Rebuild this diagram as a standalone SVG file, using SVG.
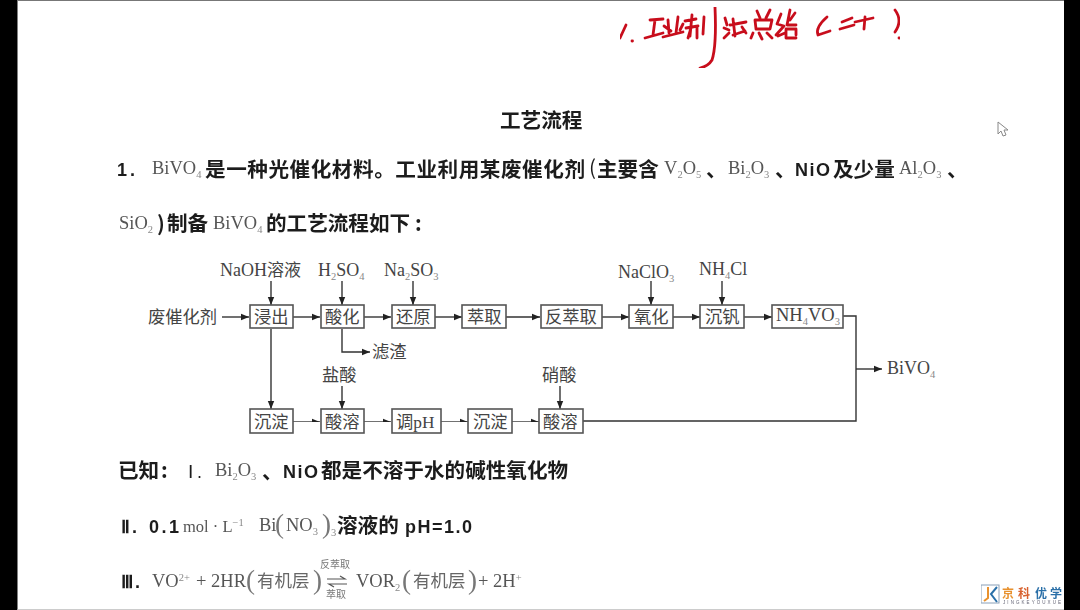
<svg xmlns="http://www.w3.org/2000/svg" width="1080" height="610" viewBox="0 0 1080 610">
<defs>
<style>
.b{font-family:"Noto Sans CJK SC",sans-serif;font-weight:700;fill:#1c1c1c;font-size:20.6px}
.l{font-family:"Liberation Sans",sans-serif;font-weight:700;fill:#1c1c1c;font-size:18px;letter-spacing:1px}
.s{font-family:"Liberation Serif","Noto Sans CJK SC",serif;fill:#555;font-size:18.5px}
.f{font-family:"Liberation Serif","Noto Sans CJK SC",serif;fill:#444;font-size:18px}
.c{font-family:"Noto Sans CJK SC",sans-serif;fill:#444;font-size:17.3px}
.h{font-family:"Noto Sans CJK SC",sans-serif;fill:#666;font-size:17.5px}
.p{font-family:"Liberation Serif",serif;fill:#777;font-size:27px}
.sub{font-size:10.5px;fill:#888}
.box{fill:#fff;stroke:#555;stroke-width:1.6}
.line{fill:none;stroke:#333;stroke-width:1.4}
.ink{fill:none;stroke:#c8101c;stroke-width:2.8;stroke-linecap:round;stroke-linejoin:round}
</style>
<marker id="a" markerWidth="9" markerHeight="8" refX="8" refY="4" orient="auto" markerUnits="userSpaceOnUse"><path d="M0 0.8L8 4L0 7.2Z" fill="#222"/></marker>
<filter id="soft" x="0" y="0" width="100%" height="100%"><feGaussianBlur stdDeviation="0.45"/></filter>
</defs>
<rect width="1080" height="610" fill="#000"/>
<rect x="17.5" y="0" width="1046.5" height="610" fill="#fff"/>
<rect x="17.5" y="0" width="1046.5" height="1" fill="#777"/>
<rect x="17.5" y="609" width="1046.5" height="1" fill="#ccc"/>
<g id="handwriting" class="ink" filter="url(#soft)">
<path d="M620 38L626 25M632 41h.5"/>
<path d="M650 20L663 19M655 20L653 35M645 38L663 33"/>
<path d="M668 20L669 33M678 17L676 33M664 26L671 31M683 24L680 30M663 37L683 32"/>
<path d="M692 15L690 36M685 21L696 19M686 28L698 26M691 28L688 38M697 27V38M704 17L703 34"/>
<path d="M715 7C716 30 716 48 712 60C709 65 705 67 700 68"/>
<path d="M725 18L727 25M724 28L729 30M724 38L729 33M733 19L735 36M730 25L746 22M733 35L745 31M742 27L746 33"/>
<path d="M757 11L760 18M770 10L766 18M755 20H772L770 29H756ZM751 38L753 33M759 33L762 39M767 33L772 38"/>
<path d="M781 14L777 24L784 26L776 35M778 36L785 33M790 10L787 25H796M795 13L790 20M786 30V38H796M786 29H796V35"/>
<path d="M827 17C819 24 816 30 818 35L830 31"/>
<path d="M842 22L852 18M840 29L854 25"/>
<path d="M855 22L873 18M865 17L864 29"/>
<path d="M895 10C901 18 900 25 895 32M899 38h.5"/>
</g>
<g id="cursor"><path d="M998 122V134L1001 131L1003 136L1006 135L1004 130L1008 130Z" fill="#fff" stroke="#888"/></g>
<g id="logo" filter="url(#soft)">
<rect x="981" y="585" width="18" height="18" fill="#fff" stroke="#8aa0b8"/>
<path d="M988 587V598L984 601" fill="none" stroke="#e8912d" stroke-width="2"/>
<path d="M997 587L991 594L997 602" fill="none" stroke="#2a6fa8" stroke-width="2"/>
<text x="1002" y="598" font-family="Noto Sans CJK SC,sans-serif" font-size="12" font-weight="700" fill="#e8912d">京</text>
<text x="1018" y="598" font-family="Noto Sans CJK SC,sans-serif" font-size="12" font-weight="700" fill="#d8602d">科</text>
<text x="1035" y="598" font-family="Noto Sans CJK SC,sans-serif" font-size="12" font-weight="700" fill="#2a6fa8">优</text>
<text x="1050" y="598" font-family="Noto Sans CJK SC,sans-serif" font-size="12" font-weight="700" fill="#2a6fa8">学</text>
<text x="1003" y="604" font-family="Liberation Sans,sans-serif" font-size="4.5" fill="#667" textLength="58">JINGKEYOUXUE</text>
</g>
<g id="text" filter="url(#soft)">
<text class="b" x="500" y="128">工艺流程</text>
<text x="117" y="176" class="l" style="letter-spacing:3px">1.</text>
<text x="152" y="174" class="s">BiVO<tspan class="sub" dy="4">4</tspan></text>
<text x="205" y="176.500" class="b" textLength="380">是一种光催化材料。工业利用某废催化剂</text>
<text x="589" y="175" class="b" style="font-weight:400">(</text>
<text x="597" y="176.500" class="b">主要含</text>
<text x="664" y="174" class="s">V<tspan class="sub" dy="4">2</tspan><tspan dy="-4">O</tspan><tspan class="sub" dy="4">5</tspan></text>
<text x="706" y="177" class="b">、</text>
<text x="728" y="174" class="s">Bi<tspan class="sub" dy="4">2</tspan><tspan dy="-4">O</tspan><tspan class="sub" dy="4">3</tspan></text>
<text x="775" y="177" class="b">、</text>
<text x="795" y="176" class="l" style="letter-spacing:1.5px">NiO</text>
<text x="833" y="176.500" class="b">及少量</text>
<text x="899" y="174" class="s">Al<tspan class="sub" dy="4">2</tspan><tspan dy="-4">O</tspan><tspan class="sub" dy="4">3</tspan></text>
<text x="947" y="177" class="b">、</text>
<text x="119" y="229" class="s">SiO<tspan class="sub" dy="4">2</tspan></text>
<text x="157" y="231" class="b">)</text>
<text x="167" y="231" class="b">制备</text>
<text x="213" y="229" class="s">BiVO<tspan class="sub" dy="4">4</tspan></text>
<text x="266" y="231" class="b">的工艺流程如下</text>
<text x="415" y="231" class="b">:</text>
<text x="118" y="478" class="b">已知</text>
<text x="161" y="478" class="b">:</text>
<text x="188" y="478" class="l" style="font-weight:400;letter-spacing:4px">Ⅰ.</text>
<text x="215" y="476" class="s">Bi<tspan class="sub" dy="4">2</tspan><tspan dy="-4">O</tspan><tspan class="sub" dy="4">3</tspan></text>
<text x="262" y="479" class="b">、</text>
<text x="283" y="478" class="l" style="letter-spacing:1.500px">NiO</text>
<text x="321" y="478" class="b">都是不溶于水的碱性氧化物</text>
<text x="121" y="533" class="l" style="letter-spacing:2px">Ⅱ.</text>
<text x="149" y="533" class="l" style="letter-spacing:2.500px">0.1</text>
<text x="183" y="532" class="s" style="font-size:16.5px">mol · L<tspan class="sub" dy="-6">−1</tspan></text>
<text x="259" y="531" class="s">Bi</text>
<text x="275" y="533" class="p">(</text>
<text x="286" y="531" class="s">NO<tspan class="sub" dy="4">3</tspan></text>
<text x="322" y="533" class="p">)</text>
<text x="331" y="536" class="s sub">3</text>
<text x="337" y="533" class="b">溶液的</text>
<text x="405" y="533" class="l" style="letter-spacing:1.500px">pH=1.0</text>
<text x="121" y="588" class="l" style="letter-spacing:2px">Ⅲ.</text>
<text x="152" y="587" class="s">VO<tspan class="sub" dy="-6">2+</tspan><tspan dy="6" x="196">+ 2HR</tspan></text>
<text x="246" y="589" class="p">(</text>
<text x="257" y="587" class="h">有机层</text>
<text x="313" y="589" class="p">)</text>
<text x="320" y="568" font-family="Noto Sans CJK SC,sans-serif" font-size="10" fill="#777">反萃取</text>
<text x="326" y="598" font-family="Noto Sans CJK SC,sans-serif" font-size="10" fill="#777">萃取</text>
<path d="M327 579H345L340 576M347 584H329L334 587" fill="none" stroke="#555" stroke-width="1.2"/>
<text x="356" y="587" class="s">VOR<tspan class="sub" dy="4">2</tspan></text>
<text x="402" y="589" class="p">(</text>
<text x="413" y="587" class="h">有机层</text>
<text x="468" y="589" class="p">)</text>
<text x="478" y="587" class="s">+ 2H<tspan class="sub" dy="-6">+</tspan></text>
</g>
<g id="connectors" class="line" filter="url(#soft)">
<path class="line" marker-end="url(#a)" d="M222 317H249"/>
<path class="line" marker-end="url(#a)" d="M293 317H320"/>
<path class="line" marker-end="url(#a)" d="M364 317H391"/>
<path class="line" marker-end="url(#a)" d="M435 317H462"/>
<path class="line" marker-end="url(#a)" d="M506 317H540"/>
<path class="line" marker-end="url(#a)" d="M602 317H629"/>
<path class="line" marker-end="url(#a)" d="M673 317H700"/>
<path class="line" marker-end="url(#a)" d="M744 317H772"/>
<path class="line" d="M843 316H856V421H583"/>
<path class="line" marker-end="url(#a)" d="M856 369H882"/>
<path class="line" marker-end="url(#a)" d="M271 281V305"/>
<path class="line" marker-end="url(#a)" d="M342 281V305"/>
<path class="line" marker-end="url(#a)" d="M413 281V305"/>
<path class="line" marker-end="url(#a)" d="M651 281V305"/>
<path class="line" marker-end="url(#a)" d="M722 281V305"/>
<path class="line" marker-end="url(#a)" d="M271 329V409"/>
<path class="line" marker-end="url(#a)" d="M342 329V352H370"/>
<path class="line" marker-end="url(#a)" d="M342 386V409"/>
<path class="line" marker-end="url(#a)" d="M560 386V409"/>
<path class="line" marker-end="url(#a)" d="M293 422H320"/>
<path class="line" marker-end="url(#a)" d="M364 422H391"/>
<path class="line" marker-end="url(#a)" d="M441 422H468"/>
<path class="line" marker-end="url(#a)" d="M512 422H539"/>
</g>
<g id="n1"><text class="c" x="148" y="323">废催化剂</text></g>
<g id="n2"><rect class="box" x="250" y="305" width="43" height="23"/><text class="c" x="254" y="323">浸出</text></g>
<g id="n3"><rect class="box" x="321" y="305" width="43" height="23"/><text class="c" x="325" y="323">酸化</text></g>
<g id="n4"><rect class="box" x="392" y="305" width="43" height="23"/><text class="c" x="396" y="323">还原</text></g>
<g id="n5"><rect class="box" x="462" y="305" width="44" height="23"/><text class="c" x="467" y="323">萃取</text></g>
<g id="n6"><rect class="box" x="541" y="305" width="61" height="23"/><text class="c" x="545" y="323">反萃取</text></g>
<g id="n7"><rect class="box" x="629" y="305" width="44" height="23"/><text class="c" x="634" y="323">氧化</text></g>
<g id="n8"><rect class="box" x="700" y="305" width="44" height="23"/><text class="c" x="705" y="323">沉钒</text></g>
<g id="n9"><rect class="box" x="772" y="305" width="71" height="23"/><text class="f" x="776" y="321" style="font-size:18.5px">NH<tspan class="sub" dy="4">4</tspan><tspan dy="-4">VO</tspan><tspan class="sub" dy="4">3</tspan></text></g>
<g id="n10"><rect class="box" x="250" y="409" width="43" height="24"/><text class="c" x="254" y="428">沉淀</text></g>
<g id="n11"><rect class="box" x="321" y="409" width="43" height="24"/><text class="c" x="325" y="428">酸溶</text></g>
<g id="n12"><rect class="box" x="392" y="409" width="49" height="24"/><text class="c" x="396" y="428">调<tspan style="font-family:'Liberation Serif'">pH</tspan></text></g>
<g id="n13"><rect class="box" x="468" y="409" width="44" height="24"/><text class="c" x="473" y="428">沉淀</text></g>
<g id="n14"><rect class="box" x="539" y="409" width="44" height="24"/><text class="c" x="543" y="428">酸溶</text></g>
<g id="l1"><text class="f" x="220" y="276">NaOH<tspan style="font-family:'Noto Sans CJK SC'" font-size="17">溶液</tspan></text></g>
<g id="l2"><text class="f" x="318" y="276">H<tspan class="sub" dy="4">2</tspan><tspan dy="-4">SO</tspan><tspan class="sub" dy="4">4</tspan></text></g>
<g id="l3"><text class="f" x="384" y="276">Na<tspan class="sub" dy="4">2</tspan><tspan dy="-4">SO</tspan><tspan class="sub" dy="4">3</tspan></text></g>
<g id="l4"><text class="f" x="618" y="278">NaClO<tspan class="sub" dy="4">3</tspan></text></g>
<g id="l5"><text class="f" x="699" y="275">NH<tspan class="sub" dy="4">4</tspan><tspan dy="-4">Cl</tspan></text></g>
<g id="l6"><text class="c" x="372" y="358">滤渣</text></g>
<g id="l7"><text class="c" x="322" y="381">盐酸</text></g>
<g id="l8"><text class="c" x="542" y="381">硝酸</text></g>
<g id="l9"><text class="f" x="887" y="374">BiVO<tspan class="sub" dy="4">4</tspan></text></g>
</svg>
